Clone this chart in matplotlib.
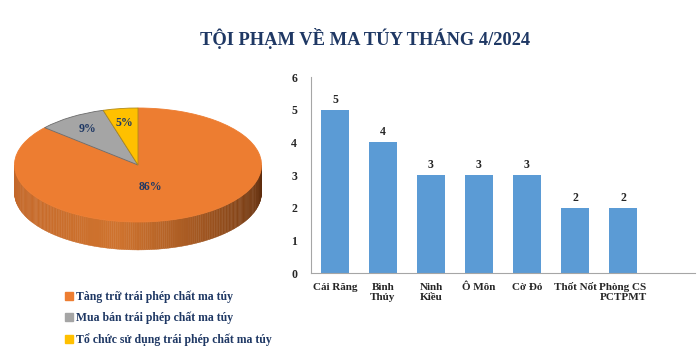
import numpy as np
import matplotlib
matplotlib.use("Agg")
import matplotlib.pyplot as plt
from matplotlib.patches import Patch

plt.rcParams['font.family'] = ['Liberation Serif', 'DejaVu Serif']
plt.rcParams['font.weight'] = 'bold'

# du lieu
loai_toi_pham = ['Tàng trữ trái phép chất ma túy',
                 'Mua bán trái phép chất ma túy',
                 'Tổ chức sử dụng trái phép chất ma túy']
so_vu = [19, 2, 1]
mau_pie = ['#ED7D31', '#A5A5A5', '#FFC000']

don_vi = ['Cái Răng', 'Bình\nThủy', 'Ninh\nKiều', 'Ô Môn', 'Cờ Đỏ', 'Thốt Nốt', 'Phòng CS\nPCTPMT']
so_vu_don_vi = [5, 4, 3, 3, 3, 2, 2]

navy = '#1F3864'
chu = '#262626'

fig = plt.figure(figsize=(7, 3.56), dpi=100)
fig.text(0.522, 0.893, 'TỘI PHẠM VỀ MA TÚY THÁNG 4/2024', ha='center', va='center',
         fontsize=13.3, color=navy, fontweight='bold')

# ---- pie 3D gia lap ----
ax1 = fig.add_axes([14.5 / 700, 88.4 / 356, 247 / 700, 171 / 356])
wedges, texts, autotexts = ax1.pie(so_vu, colors=mau_pie, startangle=90, counterclock=False,
                                   autopct='%.0f%%', pctdistance=0.75,
                                   wedgeprops=dict(linewidth=0.6, edgecolor='#6b6b6b'),
                                   textprops=dict(fontsize=8.5, color=navy, fontweight='bold'))
wedges[0].set_edgecolor('#ED7D31')
wedges[2].set_edgecolor('#b08a1a')
ax1.set_aspect('auto')
ax1.set_xlim(-1, 1)
ax1.set_ylim(-1.8, 1.2)
ax1.axis('off')

do_day = 0.49
c_trai = np.array([0.76, 0.40, 0.16])
c_giua = np.array([0.81, 0.45, 0.18])
c_phai = np.array([0.36, 0.17, 0.05])
for w, col in zip(wedges, mau_pie):
    t1, t2 = sorted([w.theta1, w.theta2])
    for k in (-1, 0, 1):
        a = max(t1, 180 + 360 * k)
        b = min(t2, 360 + 360 * k)
        if a >= b:
            continue
        th = np.radians(np.linspace(a, b, int(b - a) + 2))
        for i in range(len(th) - 1):
            f = ((np.degrees(th[i]) % 360) - 180) / 180
            if f < 0.45:
                c = c_trai + (c_giua - c_trai) * f / 0.45
            else:
                c = c_giua + (c_phai - c_giua) * (f - 0.45) / 0.55
            xs = np.cos(th[i:i + 2])
            ys = np.sin(th[i:i + 2])
            ax1.fill([xs[0], xs[1], xs[1], xs[0]],
                     [ys[0], ys[1], ys[1] - do_day, ys[0] - do_day],
                     color=c, lw=0.3, ec=c, zorder=0.5)

autotexts[0].set_position((0.1, -0.39))

handles = [Patch(color=c) for c in mau_pie]
fig.legend(handles, loai_toi_pham, loc='upper left', bbox_to_anchor=(54 / 700, (356 - 280) / 356),
           frameon=False, handlelength=0.7, handleheight=0.7, handletextpad=0.3,
           labelspacing=0.75, prop=dict(size=8.5, weight='bold'), labelcolor=navy)

# ---- bar ----
ax2 = fig.add_axes([311 / 700, 83 / 356, 384 / 700, 196 / 356])
x = np.arange(len(don_vi))
bars = ax2.bar(x, so_vu_don_vi, width=0.57, color='#5B9BD5')
ax2.bar_label(bars, padding=3, fontsize=8.5, color=chu, fontweight='bold')
ax2.set_xlim(-0.5, 7.5)
ax2.set_ylim(0, 6)
ax2.set_xticks(x)
ax2.set_xticklabels(don_vi, fontsize=8, color=chu, fontweight='bold', linespacing=1.25)
ax2.tick_params(axis='both', length=0, labelsize=8.5, labelcolor=chu)
ax2.tick_params(axis='x', pad=7, labelsize=8)
ax2.tick_params(axis='y', pad=10)
for s in ['top', 'right']:
    ax2.spines[s].set_visible(False)
ax2.spines['left'].set_color('#a6a6a6')
ax2.spines['bottom'].set_color('#a6a6a6')

fig.savefig('out.png', dpi=100)
